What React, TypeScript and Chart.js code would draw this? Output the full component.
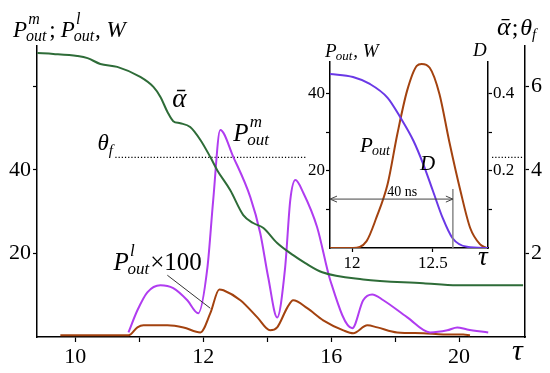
import React, { useEffect, useRef } from "react";
import { Chart, registerables } from "chart.js";
Chart.register(...registerables);

const FONT = '"Liberation Serif", "Times New Roman", "DejaVu Serif", serif';

// ---------- main chart data ----------
const ALPHA_TAU = [6.81, 7.31, 8.06, 8.38, 8.78, 9.31, 10.03, 10.44, 10.66, 10.88, 11.06, 11.28, 11.59, 11.91, 12.22, 12.44, 12.84, 13.25, 13.56, 13.88, 14.31, 14.81, 15.19, 15.72, 17.0, 18.88, 19.94, 22.0];
const ALPHA_VAL = [6.80, 6.78, 6.73, 6.68, 6.54, 6.47, 6.23, 5.99, 5.75, 5.39, 5.17, 5.12, 5.03, 4.72, 4.31, 3.99, 3.52, 2.92, 2.73, 2.61, 2.25, 1.96, 1.77, 1.55, 1.38, 1.29, 1.24, 1.24];

const PM_TAU = [9.66, 9.94, 10.25, 10.66, 11.06, 11.5, 11.84, 12.13, 12.31, 12.53, 12.94, 13.47, 13.78, 14.03, 14.31, 14.56, 14.72, 14.88, 15.13, 15.56, 15.97, 16.66, 17.0, 17.28, 17.63, 18.38, 19.09, 19.63, 19.94, 20.25, 20.91];
const PM_VAL = [1.1, 6.4, 10.7, 12.4, 11.7, 8.8, 5.7, 16.7, 32.8, 49.6, 43.1, 33.5, 24.9, 14.3, 4.7, 16.7, 32.8, 37.6, 34.5, 26.3, 13.6, 2.1, 8.8, 10.2, 8.8, 4.7, 1.1, 1.6, 2.3, 1.8, 1.1];

const PL_TAU = [7.53, 9.66, 9.94, 10.13, 10.88, 11.38, 11.91, 12.22, 12.5, 12.63, 13.16, 13.69, 14.09, 14.31, 14.63, 14.81, 15.25, 15.75, 16.38, 16.69, 17.13, 17.44, 18.06, 18.88, 19.5, 20.13, 20.34];
const PL_VAL = [0.4, 0.4, 2.3, 2.8, 2.8, 2.3, 1.1, 5.7, 11.4, 11.2, 8.8, 4.7, 1.6, 2.3, 7.1, 8.8, 6.9, 4.0, 1.6, 0.9, 2.8, 2.3, 1.1, 0.9, 0.6, 0.6, 0.4];

const THETA_F = 4.3;
const THETA_SEGMENTS = [[9.25, 15.25], [21.03, 22.06]];

const X_TICKS = [8, 10, 12, 14, 16, 18, 20];
const X_TICK_LABELS = ["10", "", "12", "", "16", "", "20"];
const Y_TICKS = [20, 40, 60];
const Y_TICK_LABELS = ["20", "40", ""];
const Y2_TICKS = [2, 4, 6];
const Y2_TICK_LABELS = ["2", "4", "6"];

// ---------- inset data ----------
const IN_P_TAU = [11.864, 12.006, 12.11, 12.22, 12.3, 12.38, 12.44, 12.5, 12.56, 12.62, 12.71, 12.84];
const IN_P_VAL = [45.2, 44.4, 42.6, 39.0, 33.8, 27.8, 21.8, 14.8, 7.8, 2.6, 0.3, 0.0];
const IN_D_TAU = [11.864, 12.006, 12.09, 12.15, 12.22, 12.28, 12.34, 12.4, 12.43, 12.48, 12.54, 12.6, 12.67, 12.73, 12.79, 12.83];
const IN_D_VAL = [0.0, 0.0, 0.018, 0.078, 0.166, 0.296, 0.408, 0.473, 0.478, 0.468, 0.40, 0.278, 0.148, 0.052, 0.01, 0.0];

const IN_X_TICKS = [12, 12.5];
const IN_X_TICK_LABELS = ["12", "12.5"];
const IN_Y_TICKS = [10, 20, 30, 40];
const IN_Y_TICK_LABELS = ["", "20", "", "40"];
const IN_Y2_TICKS = [0.1, 0.2, 0.3, 0.4];
const IN_Y2_TICK_LABELS = ["", "0.2", "", "0.4"];

const PULSE_LABEL = "40 ns";
const PULSE_START = 11.864;
const PULSE_END = 12.623;
const PULSE_LEVEL = 12.7;
const PULSE_MARK_TOP = 15.3;

const pts = (xs: number[], ys: number[]) => xs.map((x, i) => ({ x, y: ys[i] }));

function txt(ctx: CanvasRenderingContext2D, s: string, x: number, y: number, size: number, italic: boolean) {
  ctx.font = `${italic ? "italic " : ""}${size}px ${FONT}`;
  ctx.fillText(s, x, y);
  return x + ctx.measureText(s).width;
}

function drawP(ctx: CanvasRenderingContext2D, x: number, y: number, size: number, sub: string, sup: string | null) {
  const x1 = txt(ctx, "P", x, y, size, true);
  const s = Math.round(size * 0.68);
  let end = txt(ctx, sub, x1 - size * 0.05, y + size * 0.16, s, true);
  if (sup) end = Math.max(end, txt(ctx, sup, x1 + size * 0.05, y - size * 0.55, s, true));
  return end;
}

function axis(o: any) {
  const horizontal = o.position === "bottom";
  return {
    type: "linear",
    position: o.position,
    min: o.min,
    max: o.max,
    bounds: "data",
    afterBuildTicks: (a: any) => {
      a.ticks = o.ticks.map((v: number) => ({ value: v }));
    },
    afterFit: (a: any) => {
      if (horizontal) a.height = o.size;
      else a.width = o.size;
    },
    ticks: {
      callback: (v: number) => {
        const i = o.ticks.indexOf(v);
        return i >= 0 ? o.labels[i] : "";
      },
      font: { family: FONT, size: o.font },
      color: "#000",
      padding: o.padding ?? 2,
      autoSkip: false,
      maxRotation: 0,
      minRotation: 0,
    },
    grid: {
      display: true,
      drawOnChartArea: false,
      drawTicks: true,
      tickLength: o.tickLength ?? 4,
      color: "#000",
      tickColor: "#000",
      tickWidth: 1.2,
    },
    border: { display: true, color: "#000", width: 1.5 },
  };
}

export default function App() {
  const mainRef = useRef<HTMLCanvasElement>(null);
  const insetRef = useRef<HTMLCanvasElement>(null);

  useEffect(() => {
    const mainLabels = {
      id: "mainLabels",
      afterDraw(chart: any) {
        const ctx: CanvasRenderingContext2D = chart.ctx;
        const xs = chart.scales.x;
        const ys = chart.scales.y;
        const px = (t: number) => xs.getPixelForValue(t);
        const py = (v: number) => ys.getPixelForValue(v);
        ctx.save();
        ctx.fillStyle = "#000";
        ctx.textAlign = "left";
        ctx.textBaseline = "alphabetic";

        // left axis title
        let x = drawP(ctx, 13, 37, 23, "out", "m");
        x = txt(ctx, ";", x + 3, 37, 23, false) + 5;
        x = drawP(ctx, x, 37, 23, "out", "l");
        txt(ctx, ", W", x + 1, 37, 23, true);

        // right axis title
        x = txt(ctx, "\u1FB1", 497, 35, 26, true);
        x = txt(ctx, ";", x + 1, 35, 24, false);
        x = txt(ctx, "\u03B8", x + 2, 35, 24, true);
        txt(ctx, "f", x, 39, 15, true);

        // x axis title
        txt(ctx, "\u03C4", 512, 360, 30, true);

        // in-plot labels
        txt(ctx, "\u1FB1", px(11.03), py(55.1), 27, true);
        x = txt(ctx, "\u03B8", px(8.69), py(44.8), 23, true);
        txt(ctx, "f", x, py(44.8) + 5, 15, true);
        drawP(ctx, px(12.94), py(46.9), 25, "out", "m");
        x = drawP(ctx, px(9.19), py(16.0), 25, "out", "l");
        txt(ctx, "\u00D7100", x + 1, py(16.0), 25, false);

        // leader line
        ctx.strokeStyle = "#333";
        ctx.lineWidth = 1;
        ctx.beginPath();
        ctx.moveTo(px(10.875), py(14.8));
        ctx.lineTo(px(12.22), py(6.88));
        ctx.stroke();
        ctx.restore();
      },
    };

    const main = new Chart(mainRef.current as HTMLCanvasElement, {
      type: "line",
      data: {
        datasets: [
          {
            data: pts(ALPHA_TAU, ALPHA_VAL),
            yAxisID: "y2",
            borderColor: "#2e6c38",
            borderWidth: 2,
            pointRadius: 0,
            cubicInterpolationMode: "monotone",
          },
          {
            data: pts(PM_TAU, PM_VAL),
            yAxisID: "y",
            borderColor: "#b03cf0",
            borderWidth: 2,
            pointRadius: 0,
            cubicInterpolationMode: "monotone",
          },
          {
            data: pts(PL_TAU, PL_VAL),
            yAxisID: "y",
            borderColor: "#a3420f",
            borderWidth: 2,
            pointRadius: 0,
            cubicInterpolationMode: "monotone",
          },
          {
            data: THETA_SEGMENTS.flatMap(([a, b]) => [
              { x: a, y: THETA_F },
              { x: b, y: THETA_F },
              { x: b + 0.01, y: null },
            ]),
            yAxisID: "y2",
            borderColor: "#000",
            borderWidth: 1.2,
            borderDash: [1.2, 2],
            pointRadius: 0,
            spanGaps: false,
          },
        ] as any,
      },
      options: {
        responsive: false,
        animation: false,
        devicePixelRatio: 1,
        parsing: true,
        layout: { padding: { top: 46, left: 0, right: 0, bottom: 0 } },
        plugins: { legend: { display: false }, tooltip: { enabled: false } },
        scales: {
          x: axis({ position: "bottom", min: 6.8, max: 22.06, ticks: X_TICKS, labels: X_TICK_LABELS, size: 36, font: 22, tickLength: 5, padding: 2 }),
          y: axis({ position: "left", min: 0, max: 69.7, ticks: Y_TICKS, labels: Y_TICK_LABELS, size: 37, font: 22 }),
          y2: axis({ position: "right", min: 0, max: 6.97, ticks: Y2_TICKS, labels: Y2_TICK_LABELS, size: 25, font: 22 }),
        } as any,
      },
      plugins: [mainLabels],
    });

    const insetPlugin = {
      id: "insetPlugin",
      beforeDraw(chart: any) {
        const { ctx, chartArea } = chart;
        ctx.save();
        ctx.fillStyle = "#fff";
        ctx.fillRect(chartArea.left, chartArea.top, chartArea.right - chartArea.left, chartArea.bottom - chartArea.top);
        ctx.restore();
      },
      afterDraw(chart: any) {
        const ctx: CanvasRenderingContext2D = chart.ctx;
        const xs = chart.scales.x;
        const ys = chart.scales.y;
        const px = (t: number) => xs.getPixelForValue(t);
        const py = (v: number) => ys.getPixelForValue(v);
        ctx.save();
        ctx.fillStyle = "#000";
        ctx.textAlign = "left";
        ctx.textBaseline = "alphabetic";

        let x = drawP(ctx, 25, 27, 19, "out", null);
        txt(ctx, ", W", x + 1, 27, 19, true);
        txt(ctx, "D", 173, 26, 19, true);
        txt(ctx, "\u03C4", 178, 235, 27, true);

        drawP(ctx, px(12.05), py(24.9), 21, "out", null);
        txt(ctx, "D", px(12.42), py(20.3), 21, true);

        // pulse width marker
        ctx.strokeStyle = "#888";
        ctx.lineWidth = 1.5;
        ctx.beginPath();
        ctx.moveTo(px(PULSE_END), py(PULSE_MARK_TOP));
        ctx.lineTo(px(PULSE_END), py(0));
        ctx.stroke();

        const x0 = px(PULSE_START);
        const x1 = px(PULSE_END);
        const yy = py(PULSE_LEVEL);
        ctx.strokeStyle = "#444";
        ctx.lineWidth = 1;
        ctx.beginPath();
        ctx.moveTo(x0, yy);
        ctx.lineTo(x1, yy);
        ctx.moveTo(x0 + 7, yy - 3);
        ctx.lineTo(x0, yy);
        ctx.lineTo(x0 + 7, yy + 3);
        ctx.moveTo(x1 - 7, yy - 3);
        ctx.lineTo(x1, yy);
        ctx.lineTo(x1 - 7, yy + 3);
        ctx.stroke();

        ctx.textAlign = "center";
        txt(ctx, PULSE_LABEL, px(12.31), py(13.4), 14, false);
        ctx.restore();
      },
    };

    const inset = new Chart(insetRef.current as HTMLCanvasElement, {
      type: "line",
      data: {
        datasets: [
          {
            data: pts(IN_P_TAU, IN_P_VAL),
            yAxisID: "y",
            borderColor: "#6a38e6",
            borderWidth: 2,
            pointRadius: 0,
            cubicInterpolationMode: "monotone",
          },
          {
            data: pts(IN_D_TAU, IN_D_VAL),
            yAxisID: "y2",
            borderColor: "#a3420f",
            borderWidth: 2,
            pointRadius: 0,
            cubicInterpolationMode: "monotone",
          },
        ] as any,
      },
      options: {
        responsive: false,
        animation: false,
        devicePixelRatio: 1,
        layout: { padding: { top: 32, left: 0, right: 0, bottom: 0 } },
        plugins: { legend: { display: false }, tooltip: { enabled: false } },
        scales: {
          x: axis({ position: "bottom", min: 11.864, max: 12.84, ticks: IN_X_TICKS, labels: IN_X_TICK_LABELS, size: 22, font: 17, tickLength: 4, padding: 1 }),
          y: axis({ position: "left", min: 0, max: 48.3, ticks: IN_Y_TICKS, labels: IN_Y_TICK_LABELS, size: 30, font: 17, padding: 1 }),
          y2: axis({ position: "right", min: 0, max: 0.483, ticks: IN_Y2_TICKS, labels: IN_Y2_TICK_LABELS, size: 34, font: 17, padding: 1 }),
        } as any,
      },
      plugins: [insetPlugin],
    });

    return () => {
      main.destroy();
      inset.destroy();
    };
  }, []);

  return (
    <div style={{ position: "fixed", left: 0, top: 0, width: 550, height: 373, background: "#fff", overflow: "hidden" }}>
      <canvas ref={mainRef} width={550} height={373} style={{ position: "absolute", left: 0, top: 0 }} />
      <canvas ref={insetRef} width={222} height={240} style={{ position: "absolute", left: 300, top: 30 }} />
    </div>
  );
}
